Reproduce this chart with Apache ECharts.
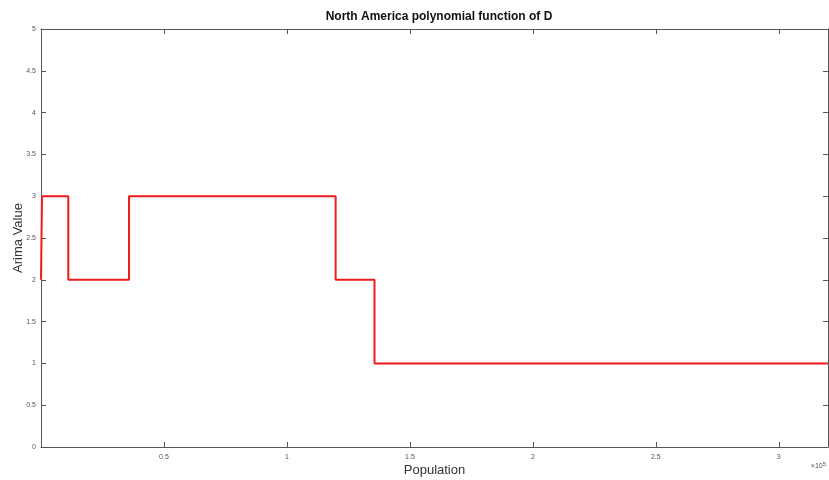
<!DOCTYPE html>
<html>
<head>
<meta charset="utf-8">
<script src="https://cdn.jsdelivr.net/npm/echarts@6/dist/echarts.min.js"></script>
<style>html,body{margin:0;padding:0;background:#fff;}#c{width:829px;height:480px;}</style>
</head>
<body>
<div id="c"></div>
<script>
// Data
const popX = [0, 400, 11100, 35800, 119800, 135600, 320000];
const arimaY = [2, 3, 2, 3, 2, 1, 1];
const xTickLabels = ['', '0.5', '1', '1.5', '2', '2.5', '3'];
const yTickLabels = ['0', '0.5', '1', '1.5', '2', '2.5', '3', '3.5', '4', '4.5', '5'];

const data = popX.map((x, i) => [x, arimaY[i]]);
const axisColor = '#555';
const chart = echarts.init(document.getElementById('c'));
const tickStyle = {show: true, inside: true, length: 5, lineStyle: {color: axisColor, width: 1}};
const lineStyleAxis = {show: true, onZero: false, lineStyle: {color: axisColor}};
chart.setOption({
  animation: false,
  title: {text: 'North America polynomial function of D', left: 434, top: 6, textAlign: 'center',
    textStyle: {fontFamily: 'Liberation Sans', fontSize: 12, fontWeight: 'bold', color: '#111'}},
  grid: {left: 41, right: 1, top: 29, bottom: 33, containLabel: false, outerBoundsMode: 'none'},
  xAxis: [{
    type: 'value', min: 0, max: 320000, interval: 50000, position: 'bottom',
    name: 'Population', nameLocation: 'middle', nameGap: 17, nameMoveOverlap: false,
    nameTextStyle: {fontFamily: 'Liberation Sans', fontSize: 13, color: '#333'},
    axisLine: lineStyleAxis,
    axisTick: tickStyle,
    splitLine: {show: false},
    axisLabel: {fontFamily: 'Liberation Sans', fontSize: 7, color: '#555', margin: 7, showMaxLabel: false,
      formatter: v => { const i = Math.round(v / 50000); return xTickLabels[i] !== undefined ? xTickLabels[i] : ''; }}
  }, {
    type: 'value', min: 0, max: 320000, interval: 50000, position: 'top',
    axisLine: lineStyleAxis,
    axisTick: tickStyle, axisLabel: {show: false}, splitLine: {show: false}
  }],
  yAxis: [{
    type: 'value', min: 0, max: 5, interval: 0.5, position: 'left',
    name: 'Arima Value', nameLocation: 'middle', nameGap: 16, nameMoveOverlap: false,
    nameTextStyle: {fontFamily: 'Liberation Sans', fontSize: 13, color: '#333'},
    axisLine: lineStyleAxis,
    axisTick: tickStyle, splitLine: {show: false},
    axisLabel: {fontFamily: 'Liberation Sans', fontSize: 7, color: '#555', margin: 5,
      formatter: v => { const i = Math.round(v / 0.5); return yTickLabels[i] !== undefined ? yTickLabels[i] : ''; }}
  }, {
    type: 'value', min: 0, max: 5, interval: 0.5, position: 'right',
    axisLine: lineStyleAxis,
    axisTick: tickStyle, axisLabel: {show: false}, splitLine: {show: false}
  }],
  series: [{
    type: 'line', data: data, step: 'end', showSymbol: false, symbol: 'none',
    lineStyle: {color: '#ee1c1c', width: 2}
  }],
  graphic: [{
    type: 'text', right: 3, top: 461,
    style: {text: '×10{s|5}', fontFamily: 'Liberation Sans', fontSize: 7, fill: '#555',
      rich: {s: {fontSize: 6, verticalAlign: 'top', padding: [0, 0, 5, 0], fill: '#555'}}}
  }]
});
</script>
</body>
</html>
